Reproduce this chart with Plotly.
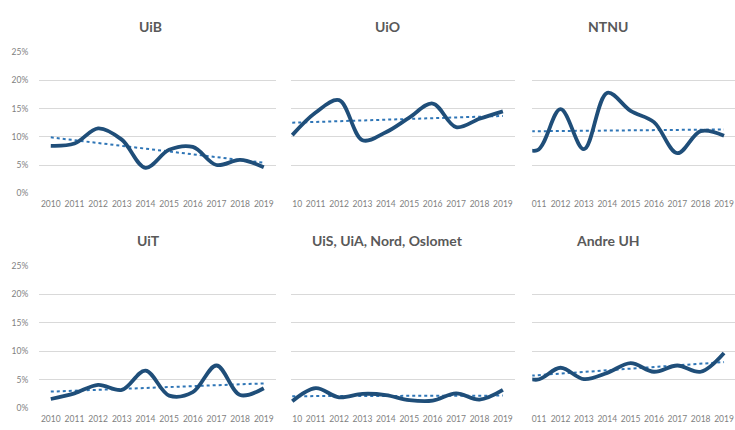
import plotly.graph_objects as go

# ---- data (percent) ----
years = list(range(2010, 2020))
titles = ["UiB", "UiO", "NTNU", "UiT", "UiS, UiA, Nord, Oslomet", "Andre UH"]
uib = [8.4, 8.8, 11.5, 9.5, 4.5, 7.7, 8.2, 5.0, 5.9, 4.6]
uio = [10.3, 14.3, 16.5, 9.4, 10.8, 13.4, 15.9, 11.7, 13.2, 14.5]
ntnu = [9.0, 7.6, 14.9, 7.8, 17.8, 14.6, 12.6, 7.1, 11.0, 10.2]
uit = [1.6, 2.6, 4.1, 3.2, 6.6, 2.2, 2.8, 7.5, 2.3, 3.5]
uis = [1.2, 3.5, 1.9, 2.5, 2.3, 1.4, 1.3, 2.6, 1.5, 3.2]
andre = [6.2, 5.0, 7.1, 5.1, 6.2, 7.9, 6.4, 7.5, 6.4, 9.7]
series = [uib, uio, ntnu, uit, uis, andre]
trend_start = [9.9, 12.5, 10.95, 2.9, 2.1, 5.5]   # linear trend value at 2010
trend_end = [5.4, 13.7, 11.3, 4.35, 2.2, 8.1]     # linear trend value at 2019
y_ticks = [0, 5, 10, 15, 20, 25]
y_labels = ["0%", "5%", "10%", "15%", "20%", "25%"]

W, H = 735, 430
LINE = "#1f4e79"
TREND = "#2e75b6"
GRID = "#d9d9d9"
TXT = "#7f7f7f"
TITLE = "#595959"
FONT = "Lato"

# panel geometry (pixels) : x-domain, x-range
cols = [
    dict(px=(38, 275), rng=(2009.5, 2019.5)),
    dict(px=(290, 515), rng=(2009.93, 2019.53)),
    dict(px=(532, 735), rng=(2010.79, 2019.47)),
]
rows = [(48.3, 192.7), (267.3, 412.7)]
title_pos = [(150, 22.5), (387, 22.5), (608, 22.5), (148, 241.5), (387, 241.5), (608, 241.5)]

# x tick labels: partially hidden first labels in col 2 and 3
xticks = [
    (years, [str(y) for y in years]),
    ([2010.21] + years[1:], ["10"] + [str(y) for y in years[1:]]),
    ([2011.08] + years[2:], ["011"] + [str(y) for y in years[2:]]),
]

fig = go.Figure()
layout = dict(
    width=W, height=H, margin=dict(l=0, r=0, t=0, b=0),
    paper_bgcolor="white", plot_bgcolor="white", showlegend=False,
    font=dict(family=FONT, color=TXT, size=9),
)
annotations = []

for i in range(6):
    r, c = divmod(i, 3)
    n = i + 1
    xa = "x" if n == 1 else f"x{n}"
    ya = "y" if n == 1 else f"y{n}"
    xkey = "xaxis" if n == 1 else f"xaxis{n}"
    ykey = "yaxis" if n == 1 else f"yaxis{n}"
    col = cols[c]
    top, bot = rows[r]
    tv, tt = xticks[c]
    layout[xkey] = dict(
        domain=[col["px"][0] / W, col["px"][1] / W], range=list(col["rng"]),
        anchor=ya, showgrid=False, zeroline=False, showline=False,
        tickvals=tv, ticktext=tt, ticks="outside", ticklen=3,
        tickcolor="rgba(0,0,0,0)", tickfont=dict(size=8.5, color=TXT, family=FONT),
        fixedrange=True,
    )
    layout[ykey] = dict(
        domain=[1 - bot / H, 1 - top / H], range=[0, 25], anchor=xa,
        tickvals=y_ticks, ticktext=y_labels, showticklabels=(c == 0),
        showgrid=True, gridcolor=GRID, gridwidth=1, zeroline=False, showline=False,
        ticks="outside", ticklen=8, tickcolor="rgba(0,0,0,0)",
        tickfont=dict(size=8.5, color=TXT, family=FONT), fixedrange=True,
    )
    fig.add_trace(go.Scatter(
        x=[years[0], years[-1]], y=[trend_start[i], trend_end[i]],
        mode="lines", line=dict(color=TREND, width=2, dash="dot"),
        xaxis=xa, yaxis=ya, hoverinfo="skip",
    ))
    fig.add_trace(go.Scatter(
        x=years, y=series[i], mode="lines",
        line=dict(color=LINE, width=3.8, shape="spline", smoothing=1.0),
        xaxis=xa, yaxis=ya, name=titles[i],
    ))
    tx, ty = title_pos[i]
    annotations.append(dict(
        text=f"<b>{titles[i]}</b>", x=tx / W, y=1 - ty / H, xref="paper", yref="paper",
        xanchor="center", yanchor="middle", showarrow=False,
        font=dict(size=14, color=TITLE, family=FONT),
    ))

layout["annotations"] = annotations
fig.update_layout(**layout)
fig.write_html(
    "out.html",
    config={"displayModeBar": False},
    post_script="document.body.style.margin='0';document.body.style.overflow='hidden';",
)
